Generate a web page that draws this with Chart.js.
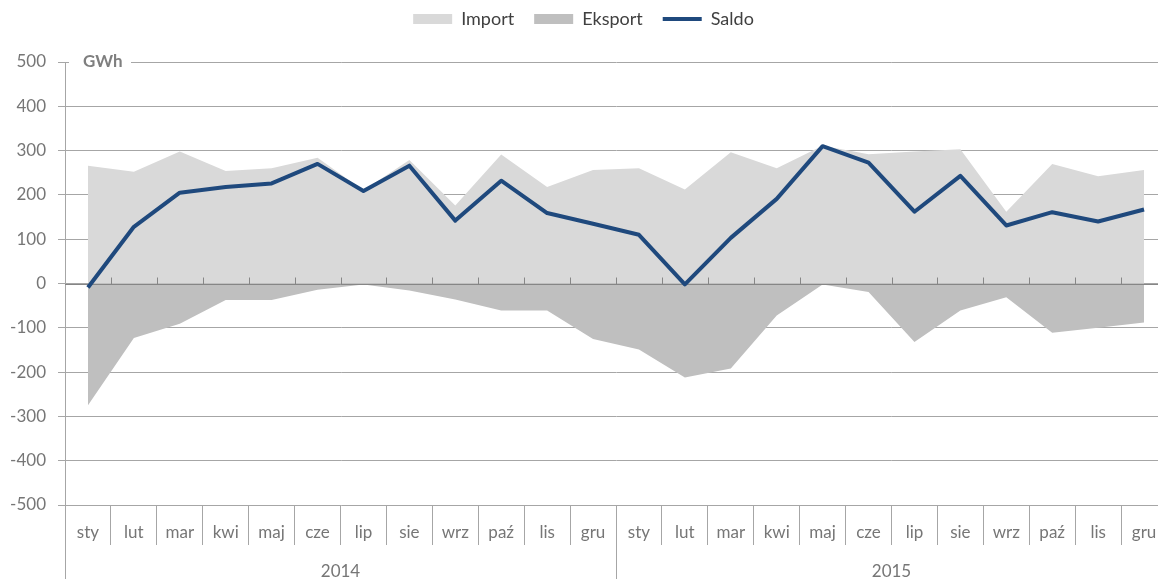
<!DOCTYPE html>
<html>
<head>
<meta charset="utf-8">
<script src="https://cdn.jsdelivr.net/npm/chart.js@4.4.1/dist/chart.umd.min.js"></script>
<style>
html, body { margin: 0; padding: 0; overflow: hidden; background: #fff; }
#wrap { position: relative; width: 1167px; height: 579px; }
</style>
</head>
<body>
<div id="wrap"><canvas id="chartCanvas"></canvas></div>
<script>
const months = ['sty', 'lut', 'mar', 'kwi', 'maj', 'cze', 'lip', 'sie', 'wrz', 'paź', 'lis', 'gru']
const years = ['2014', '2015']
const categories = [...months, ...months]

const importValues = [266, 252, 298, 254, 260, 284, 210, 279, 176, 291, 218, 256,
	260, 212, 296, 260, 311, 292, 298, 303, 162, 270, 242, 256]
const eksportValues = [-275, -123, -91, -37, -37, -14, -2, -16, -36, -61, -61, -125,
	-149, -212, -192, -72, -2, -19, -132, -61, -31, -111, -100, -88]
const saldoValues = [-9, 128, 205, 218, 226, 270, 209, 266, 142, 232, 159, 135,
	110, -2, 103, 191, 310, 273, 162, 243, 131, 161, 140, 167]

const gridColor = '#a6a6a6'
const textColor = '#767676'
const font = { family: 'Lato', size: 17 }

// empty box between legend and plot
const legendGap = {
	id: 'legendGap',
	beforeInit(chart) {
		Chart.layouts.addBox(chart, {
			position: 'top',
			weight: 0,
			fullSize: true,
			options: {},
			isHorizontal: () => true,
			update(maxWidth) {
				this.width = maxWidth
				this.height = 24
			},
			draw() {}
		})
	}
}

// zero axis with small ticks, drawn over the areas but under the Saldo line
const zeroAxis = {
	id: 'zeroAxis',
	afterDatasetDraw(chart, args) {
		if (args.index !== 1) return
		const { ctx, chartArea, scales } = chart
		const y0 = Math.round(scales.y.getPixelForValue(0)) + 0.5
		const step = scales.x.getPixelForValue(1) - scales.x.getPixelForValue(0)
		ctx.save()
		ctx.strokeStyle = '#868686'
		ctx.lineWidth = 1
		ctx.beginPath()
		ctx.moveTo(chartArea.left, y0)
		ctx.lineTo(chartArea.right, y0)
		for (let i = 1; i < categories.length; i++) {
			const x = Math.round(scales.x.getPixelForValue(i) - step / 2) + 0.5
			ctx.moveTo(x, y0)
			ctx.lineTo(x, y0 - 7)
		}
		ctx.stroke()
		ctx.restore()
	}
}

const unitLabel = {
	id: 'unitLabel',
	afterDraw(chart) {
		const { ctx, chartArea, scales } = chart
		const y = scales.y.getPixelForValue(500)
		ctx.save()
		ctx.fillStyle = '#fff'
		ctx.fillRect(chartArea.left + 4, y - 9, 62, 18)
		ctx.fillStyle = '#7f7f7f'
		ctx.font = 'bold 17px Lato'
		ctx.textBaseline = 'middle'
		ctx.fillText('GWh', chartArea.left + 18, y)
		ctx.restore()
	}
}

new Chart(document.getElementById('chartCanvas'), {
	type: 'line',
	data: {
		labels: categories,
		datasets: [
			{
				label: 'Import',
				data: importValues,
				fill: 'origin',
				backgroundColor: '#d9d9d9',
				borderWidth: 0,
				pointRadius: 0,
				pointHoverRadius: 0,
				pointStyle: 'rect',
				order: 2
			},
			{
				label: 'Eksport',
				data: eksportValues,
				fill: 'origin',
				backgroundColor: '#bfbfbf',
				borderWidth: 0,
				pointRadius: 0,
				pointHoverRadius: 0,
				pointStyle: 'rect',
				order: 1
			},
			{
				label: 'Saldo',
				data: saldoValues,
				fill: false,
				borderColor: '#1f497d',
				backgroundColor: '#1f497d',
				borderWidth: 4,
				borderJoinStyle: 'round',
				tension: 0,
				pointRadius: 0,
				pointHoverRadius: 0,
				pointStyle: 'line',
				order: 0
			}
		]
	},
	options: {
		responsive: true,
		maintainAspectRatio: false,
		animation: false,
		layout: { padding: { top: -10, left: 0, right: 0, bottom: 0 } },
		scales: {
			x: {
				offset: true,
				grid: { offset: true, drawOnChartArea: false, tickLength: 40, color: gridColor },
				border: { display: false },
				ticks: { color: textColor, font, padding: -23, maxRotation: 0, autoSkip: false },
				afterFit: scale => { scale.height = 40 }
			},
			x2: {
				type: 'category',
				labels: years,
				position: 'bottom',
				offset: true,
				grid: { offset: true, drawOnChartArea: false, tickLength: 34, color: gridColor },
				border: { display: false },
				ticks: { color: textColor, font, padding: -18, maxRotation: 0, autoSkip: false },
				afterFit: scale => { scale.height = 34 }
			},
			y: {
				min: -500,
				max: 500,
				ticks: { stepSize: 100, color: textColor, font, padding: 12 },
				grid: { color: gridColor, tickLength: 7 },
				border: { color: gridColor },
				afterFit: scale => { scale.width = 65 }
			}
		},
		plugins: {
			legend: {
				position: 'top',
				labels: {
					usePointStyle: true,
					pointStyleWidth: 39,
					boxHeight: 10,
					color: '#404040',
					font: { family: 'Lato', size: 18 },
					padding: 20,
					sort: (a, b) => a.datasetIndex - b.datasetIndex
				}
			},
			tooltip: { enabled: false }
		}
	},
	plugins: [legendGap, zeroAxis, unitLabel]
})
</script>
</body>
</html>
